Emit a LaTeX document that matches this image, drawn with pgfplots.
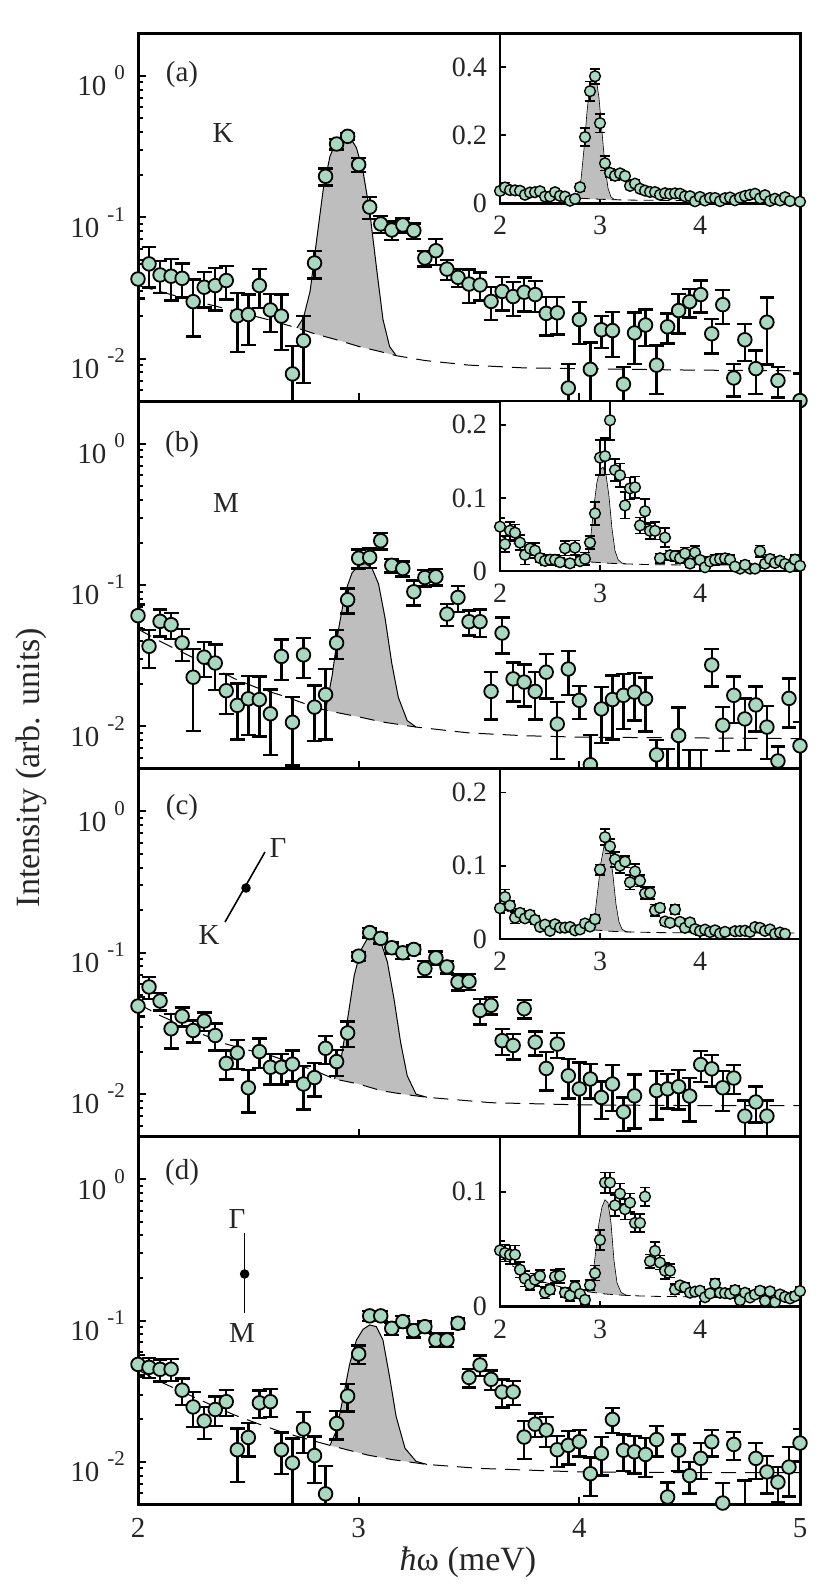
\documentclass[border=0pt]{standalone}
\usepackage{fontspec}
\setmainfont{Liberation Serif}
\usepackage{pgfplots}
\usepackage{pgfplotstable}
\pgfplotsset{compat=1.18}
\definecolor{mk}{HTML}{A8D8C0}
\definecolor{pk}{HTML}{BEBEBE}
\newcommand\dec[1]{10\hspace{0.28em}\raisebox{0.55em}{\fontsize{10.5pt}{12pt}\selectfont #1}}

\pgfplotstableread{
x y e
2.00 0.0366 0.010
2.05 0.0468 0.015
2.10 0.0391 0.010
2.15 0.0383 0.0125
2.20 0.0370 0.010
2.25 0.0253 0.011
2.30 0.0320 0.009
2.35 0.0329 0.011
2.40 0.0357 0.0095
2.45 0.0201 0.009
2.50 0.0205 0.008
2.55 0.0329 0.010
2.60 0.0221 0.0066
2.65 0.0200 0.0085
2.70 0.0078 0.0045
2.75 0.0134 0.0067
2.80 0.0475 0.0105
2.85 0.195 0.027
2.90 0.330 0.028
2.95 0.374 0.022
3.00 0.236 0.027
3.05 0.118 0.021
3.10 0.0897 0.012
3.15 0.0813 0.012
3.20 0.0882 0.010
3.25 0.0805 0.010
3.30 0.0515 0.0065
3.35 0.0580 0.012
3.40 0.0430 0.007
3.45 0.0376 0.0055
3.50 0.0337 0.009
3.55 0.0332 0.0075
3.60 0.0254 0.0066
3.65 0.0299 0.008
3.70 0.0275 0.0075
3.75 0.0295 0.008
3.80 0.0284 0.007
3.85 0.0209 0.0063
3.90 0.0211 0.0063
3.95 0.0062 0.003
4.00 0.0189 0.0062
4.05 0.0084 0.0046
4.10 0.0160 0.0041
4.15 0.0158 0.0055
4.20 0.0066 0.0021
4.25 0.0152 0.006
4.30 0.0173 0.005
4.35 0.0090 0.0034
4.40 0.0168 0.004
4.45 0.0219 0.0068
4.50 0.0253 0.0058
4.55 0.0284 0.0072
4.60 0.0150 0.0041
4.65 0.0241 0.0065
4.70 0.0073 0.0019
4.75 0.0136 0.004
4.80 0.0085 0.0029
4.85 0.0181 0.009
4.90 0.0070 0.0017
5.00 0.00505 0.0028
}\tA

\pgfplotstableread{
x y e
2.00 0.0608 0.012
2.05 0.0369 0.011
2.10 0.0554 0.012
2.15 0.0525 0.011
2.20 0.0390 0.010
2.25 0.0223 0.013
2.30 0.0309 0.0085
2.35 0.0281 0.010
2.40 0.0179 0.0056
2.45 0.0141 0.006
2.50 0.0157 0.007
2.55 0.0155 0.007
2.60 0.0123 0.006
2.65 0.0313 0.010
2.70 0.0107 0.0054
2.75 0.0321 0.010
2.80 0.0137 0.0058
2.85 0.0168 0.0087
2.90 0.0390 0.009
2.95 0.0788 0.016
3.00 0.155 0.024
3.05 0.157 0.025
3.10 0.206 0.027
3.15 0.138 0.015
3.20 0.131 0.016
3.25 0.0897 0.018
3.30 0.113 0.015
3.35 0.1145 0.015
3.40 0.0624 0.011
3.45 0.0818 0.017
3.50 0.0551 0.011
3.55 0.0551 0.012
3.60 0.0177 0.0065
3.65 0.0458 0.013
3.70 0.0217 0.0067
3.75 0.0206 0.0068
3.80 0.0177 0.0065
3.85 0.0242 0.0084
3.90 0.0104 0.0045
3.95 0.0255 0.0088
4.00 0.0153 0.004
4.05 0.00536 0.0033
4.10 0.0133 0.0057
4.15 0.0155 0.0074
4.20 0.0166 0.007
4.25 0.0175 0.0065
4.30 0.0157 0.0065
4.35 0.0063 0.0017
4.45 0.00863 0.005
4.60 0.0272 0.008
4.65 0.0102 0.0035
4.70 0.0166 0.006
4.75 0.0113 0.0045
4.80 0.0142 0.005
4.85 0.0099 0.004
4.90 0.0057 0.0015
4.95 0.0158 0.006
5.00 0.0073 0.0034
}\tB
\pgfplotstableread{
x y e
4.40 0.0035 0.0034
4.50 0.0035 0.0033
4.55 0.0035 0.0033
}\tBx

\pgfplotstableread{
x y e
2.00 0.0420 0.0066
2.05 0.0573 0.010
2.10 0.0456 0.0066
2.15 0.0290 0.008
2.20 0.0356 0.0055
2.25 0.0282 0.005
2.30 0.0329 0.005
2.35 0.0260 0.0057
2.40 0.0165 0.0038
2.45 0.0196 0.0045
2.50 0.0111 0.0037
2.55 0.0200 0.0047
2.60 0.0155 0.0038
2.65 0.0155 0.0038
2.70 0.0163 0.004
2.75 0.0118 0.004
2.80 0.0131 0.0035
2.85 0.0211 0.0047
2.90 0.0170 0.0035
2.95 0.0271 0.0055
3.00 0.0947 0.007
3.05 0.139 0.011
3.10 0.1265 0.010
3.15 0.1086 0.010
3.20 0.1000 0.010
3.25 0.1056 0.008
3.30 0.0774 0.010
3.35 0.0921 0.010
3.40 0.0795 0.008
3.45 0.0622 0.008
3.50 0.0628 0.008
3.55 0.0391 0.008
3.60 0.0425 0.006
3.65 0.0239 0.005
3.70 0.0221 0.0045
3.75 0.0402 0.006
3.80 0.0233 0.0045
3.85 0.0152 0.0046
3.90 0.0226 0.0045
3.95 0.0135 0.0042
4.00 0.0109 0.0059
4.05 0.0128 0.0035
4.10 0.00947 0.0028
4.15 0.0118 0.0042
4.20 0.00749 0.002
4.25 0.00973 0.004
4.35 0.0106 0.004
4.40 0.0109 0.003
4.45 0.0113 0.0035
4.50 0.0097 0.0033
4.55 0.0162 0.004
4.60 0.0151 0.0038
4.65 0.0111 0.0035
4.70 0.0130 0.003
4.75 0.0070 0.002
4.80 0.0088 0.0025
4.85 0.0070 0.002
}\tC

\pgfplotstableread{
x y e
2.00 0.0490 0.008
2.05 0.0467 0.0075
2.10 0.0452 0.008
2.15 0.0453 0.008
2.20 0.0322 0.0068
2.25 0.0245 0.0068
2.30 0.0195 0.005
2.35 0.0235 0.0055
2.40 0.0267 0.0055
2.45 0.0122 0.005
2.50 0.0149 0.004
2.55 0.0262 0.0058
2.60 0.0267 0.006
2.65 0.0122 0.004
2.70 0.00984 0.0048
2.75 0.0171 0.0055
2.80 0.0111 0.004
2.85 0.00595 0.0034
2.90 0.0187 0.0043
2.95 0.0292 0.0065
3.00 0.0581 0.0087
3.05 0.108 0.009
3.10 0.108 0.009
3.15 0.0882 0.009
3.20 0.0984 0.009
3.25 0.0849 0.009
3.30 0.0906 0.008
3.35 0.0729 0.008
3.40 0.0729 0.008
3.45 0.0958 0.008
3.50 0.0396 0.006
3.55 0.0485 0.008
3.60 0.0384 0.006
3.65 0.0313 0.007
3.70 0.0313 0.006
3.75 0.0150 0.0045
3.80 0.0185 0.0035
3.85 0.0168 0.004
3.90 0.0122 0.003
3.95 0.0131 0.0035
4.00 0.0139 0.003
4.05 0.00826 0.0025
4.10 0.0115 0.0035
4.15 0.0200 0.004
4.20 0.0121 0.0035
4.25 0.0118 0.0035
4.30 0.0113 0.0035
4.35 0.0144 0.0035
4.40 0.00565 0.0015
4.45 0.0121 0.0035
4.50 0.0080 0.002
4.55 0.0106 0.003
4.60 0.0139 0.003
4.65 0.00512 0.002
4.70 0.0133 0.003
4.80 0.0106 0.003
4.85 0.0085 0.0025
4.90 0.0072 0.002
4.95 0.0092 0.0035
5.00 0.0136 0.0035
}\tD
\pgfplotstableread{
x y e
4.75 0.0040 0.0034
}\tDx

\pgfplotstableread{
x y
2.72 0.0165
2.75 0.0195
2.78 0.030
2.81 0.070
2.84 0.160
2.87 0.270
2.90 0.350
2.93 0.380
2.96 0.370
2.99 0.310
3.02 0.210
3.05 0.110
3.08 0.045
3.11 0.019
3.14 0.0122
3.17 0.0105
}\pkA
\pgfplotstableread{
x y
2.72 0.0165
2.75 0.0195
2.78 0.030
2.81 0.070
2.84 0.160
2.87 0.270
2.90 0.350
2.93 0.380
2.96 0.370
2.99 0.310
3.02 0.210
3.05 0.110
3.08 0.045
3.11 0.019
3.14 0.0122
3.17 0.0105
3.10 0.0112
3.00 0.0122
2.90 0.0136
2.80 0.0150
2.72 0.0165
}\fA
\pgfplotstableread{
x y
2.00 0.0330
2.20 0.0270
2.40 0.0225
2.50 0.0205
2.60 0.0187
2.72 0.0165
2.80 0.0150
2.90 0.0136
3.00 0.0122
3.10 0.0112
3.17 0.0105
3.30 0.0097
3.50 0.0090
3.75 0.0086
4.00 0.0085
4.50 0.0083
5.00 0.0082
}\bgA

\pgfplotstableread{
x y
2.85 0.0130
2.88 0.0230
2.91 0.0500
2.94 0.0900
2.97 0.1220
3.00 0.1380
3.03 0.1420
3.06 0.1320
3.09 0.1020
3.12 0.0580
3.15 0.0280
3.18 0.0160
3.22 0.0110
3.26 0.0099
}\pkB
\pgfplotstableread{
x y
2.85 0.0130
2.88 0.0230
2.91 0.0500
2.94 0.0900
2.97 0.1220
3.00 0.1380
3.03 0.1420
3.06 0.1320
3.09 0.1020
3.12 0.0580
3.15 0.0280
3.18 0.0160
3.22 0.0110
3.26 0.0099
3.10 0.0108
3.00 0.0117
2.85 0.0130
}\fB
\pgfplotstableread{
x y
2.00 0.0489
2.10 0.0400
2.20 0.0335
2.32 0.0270
2.44 0.0217
2.55 0.0185
2.65 0.0166
2.75 0.0146
2.85 0.0130
3.00 0.0117
3.10 0.0108
3.26 0.0099
3.50 0.0090
3.75 0.0086
4.00 0.0084
4.50 0.0083
5.00 0.0082
}\bgB

\pgfplotstableread{
x y
2.89 0.0128
2.92 0.0177
2.95 0.0341
2.98 0.0693
3.01 0.1045
3.04 0.1265
3.07 0.1300
3.10 0.1197
3.13 0.0863
3.16 0.0473
3.19 0.0233
3.22 0.0135
3.26 0.0100
3.31 0.0095
}\pkC
\pgfplotstableread{
x y
2.89 0.0128
2.92 0.0177
2.95 0.0341
2.98 0.0693
3.01 0.1045
3.04 0.1265
3.07 0.1300
3.10 0.1197
3.13 0.0863
3.16 0.0473
3.19 0.0233
3.22 0.0135
3.26 0.0100
3.31 0.0095
3.20 0.0100
3.10 0.0106
3.00 0.0118
2.89 0.0128
}\fC
\pgfplotstableread{
x y
2.00 0.0436
2.10 0.0360
2.20 0.0306
2.30 0.0262
2.40 0.0226
2.50 0.0205
2.60 0.0188
2.70 0.0166
2.80 0.0147
2.89 0.0128
3.00 0.0118
3.10 0.0106
3.20 0.0100
3.31 0.0095
3.60 0.0087
4.00 0.0084
4.50 0.0083
5.00 0.0083
}\bgC

\pgfplotstableread{
x y
2.87 0.0131
2.90 0.0168
2.93 0.0289
2.96 0.0498
2.99 0.0729
3.02 0.0868
3.05 0.0931
3.08 0.0906
3.11 0.0729
3.14 0.0401
3.17 0.0209
3.21 0.0125
3.26 0.0101
3.31 0.0096
}\pkD
\pgfplotstableread{
x y
2.87 0.0131
2.90 0.0168
2.93 0.0289
2.96 0.0498
2.99 0.0729
3.02 0.0868
3.05 0.0931
3.08 0.0906
3.11 0.0729
3.14 0.0401
3.17 0.0209
3.21 0.0125
3.26 0.0101
3.31 0.0096
3.15 0.0104
3.04 0.0112
2.87 0.0131
}\fD
\pgfplotstableread{
x y
2.00 0.0447
2.10 0.0370
2.20 0.0314
2.32 0.0258
2.44 0.0214
2.55 0.0185
2.65 0.0163
2.76 0.0146
2.87 0.0131
3.04 0.0112
3.15 0.0104
3.31 0.0096
3.55 0.0090
4.00 0.0085
4.50 0.0084
5.00 0.0084
}\bgD

\pgfplotsset{
  myDat/.style={only marks, mark=*, mark size=3.4pt,
    mark options={fill=mk, draw=black, line width=0.9pt, solid},
    error bars/.cd, y dir=both, y explicit,
    error bar style={line width=1.2pt, black},
    error mark options={rotate=90, line width=1.2pt, black, mark size=3.7pt}},
  myBarsOnly/.style={only marks, mark=none, black,
    error bars/.cd, y dir=both, y explicit,
    error bar style={line width=1.2pt, black},
    error mark options={rotate=90, line width=1.2pt, black, mark size=3.7pt}},
  myIDat/.style={only marks, mark=*, mark size=2.7pt,
    mark options={fill=mk, draw=black, line width=0.7pt, solid},
    error bars/.cd, y dir=both, y explicit,
    error bar style={line width=0.8pt, black},
    error mark options={rotate=90, line width=0.8pt, black, mark size=2.7pt}},
  myBg/.style={black, line width=0.5pt, dash pattern=on 7.5pt off 4.5pt},
  myIBg/.style={black, line width=0.4pt, dash pattern=on 5pt off 3pt},
  myPk/.style={black, line width=0.5pt},
  myPkF/.style={fill=pk, draw=none},
}

\begin{document}
\begin{tikzpicture}
\useasboundingbox (0,0) rectangle (415pt,793.5pt);

% ===== (a) =====
\begin{axis}[at={(69pt,592.9pt)}, anchor=south west,
    width=331pt, height=183.9pt, scale only axis,
    ymode=log, xmin=2, xmax=5, ymin=0.005, ymax=2,
    axis line style={line width=1.5pt, black},
    tick align=inside, xtick pos=bottom, ytick pos=left,
    xtick={2,3,4,5}, xticklabels={},
    ytick={0.01,0.1,1}, yticklabels={\dec{-2},\dec{-1},\dec{0}},
    minor ytick={0.006,0.007,0.008,0.009,0.02,0.03,0.04,0.05,0.06,0.07,0.08,0.09,0.2,0.3,0.4,0.5,0.6,0.7,0.8,0.9},
    major tick length=4pt, minor tick length=2.5pt,
    tick style={line width=1pt, black},
    ticklabel style={font=\fontsize{14.5pt}{16pt}\selectfont, text=black!85},
    yticklabel style={yshift=-2.5pt, xshift=-3pt}]
\addplot[myPkF] table[x=x,y=y]{\fA};
\addplot[myBg] table[x=x,y=y]{\bgA};
\addplot[myPk] table[x=x,y=y]{\pkA};
\addplot[myDat] table[x=x,y=y,y error=e]{\tA};
\end{axis}
\begin{axis}[at={(250pt,776.8pt)}, anchor=north west,
    width=150pt, height=85pt, scale only axis,
    xmin=2, xmax=5, ymin=0, ymax=0.5,
    axis line style={line width=1.2pt, black},
    axis background/.style={fill=white},
    tick align=inside, xtick pos=bottom, ytick pos=left,
    xtick={2,3,4}, ytick={0,0.2,0.4}, scaled y ticks=false,
    major tick length=3pt, tick style={line width=0.9pt, black},
    ticklabel style={font=\fontsize{14pt}{16pt}\selectfont, text=black!85},
    /pgf/number format/assume math mode=true,
    yticklabel style={xshift=-3pt}, xticklabel style={yshift=-3pt}]
\addplot[myPkF] table[x=x,y=y]{\fA};
\addplot[myIBg] table[x=x,y=y]{\bgA};
\addplot[myPk, line width=0.3pt] table[x=x,y=y]{\pkA};
\addplot[myIDat] table[x=x,y=y,y error=e]{\tA};
\end{axis}

% ===== (b) =====
\begin{axis}[at={(69pt,409pt)}, anchor=south west,
    width=331pt, height=183.9pt, scale only axis,
    ymode=log, xmin=2, xmax=5, ymin=0.005, ymax=2,
    axis line style={line width=1.5pt, black},
    tick align=inside, xtick pos=bottom, ytick pos=left,
    xtick={2,3,4,5}, xticklabels={},
    ytick={0.01,0.1,1}, yticklabels={\dec{-2},\dec{-1},\dec{0}},
    minor ytick={0.006,0.007,0.008,0.009,0.02,0.03,0.04,0.05,0.06,0.07,0.08,0.09,0.2,0.3,0.4,0.5,0.6,0.7,0.8,0.9},
    major tick length=4pt, minor tick length=2.5pt,
    tick style={line width=1pt, black},
    ticklabel style={font=\fontsize{14.5pt}{16pt}\selectfont, text=black!85},
    yticklabel style={yshift=-2.5pt, xshift=-3pt}]
\addplot[myPkF] table[x=x,y=y]{\fB};
\addplot[myBg] table[x=x,y=y]{\bgB};
\addplot[myPk] table[x=x,y=y]{\pkB};
\addplot[myBarsOnly] table[x=x,y=y,y error=e]{\tBx};
\addplot[myDat] table[x=x,y=y,y error=e]{\tB};
\end{axis}
\begin{axis}[at={(250pt,592.9pt)}, anchor=north west,
    width=150pt, height=85pt, scale only axis,
    xmin=2, xmax=5, ymin=0, ymax=0.232,
    axis line style={line width=1.2pt, black},
    axis background/.style={fill=white},
    tick align=inside, xtick pos=bottom, ytick pos=left,
    xtick={2,3,4}, ytick={0,0.1,0.2}, scaled y ticks=false,
    major tick length=3pt, tick style={line width=0.9pt, black},
    ticklabel style={font=\fontsize{14pt}{16pt}\selectfont, text=black!85},
    /pgf/number format/assume math mode=true,
    yticklabel style={xshift=-3pt}, xticklabel style={yshift=-3pt}]
\addplot[myPkF] table[x=x,y=y]{\fB};
\addplot[myIBg] table[x=x,y=y]{\bgB};
\addplot[myPk, line width=0.3pt] table[x=x,y=y]{\pkB};
\addplot[myIDat] table[x=x,y=y,y error=e]{\tBx};
\addplot[myIDat] table[x=x,y=y,y error=e]{\tB};
\end{axis}

% ===== (c) =====
\begin{axis}[at={(69pt,225.15pt)}, anchor=south west,
    width=331pt, height=183.9pt, scale only axis,
    ymode=log, xmin=2, xmax=5, ymin=0.005, ymax=2,
    axis line style={line width=1.5pt, black},
    tick align=inside, xtick pos=bottom, ytick pos=left,
    xtick={2,3,4,5}, xticklabels={},
    ytick={0.01,0.1,1}, yticklabels={\dec{-2},\dec{-1},\dec{0}},
    minor ytick={0.006,0.007,0.008,0.009,0.02,0.03,0.04,0.05,0.06,0.07,0.08,0.09,0.2,0.3,0.4,0.5,0.6,0.7,0.8,0.9},
    major tick length=4pt, minor tick length=2.5pt,
    tick style={line width=1pt, black},
    ticklabel style={font=\fontsize{14.5pt}{16pt}\selectfont, text=black!85},
    yticklabel style={yshift=-2.5pt, xshift=-3pt}]
\addplot[myPkF] table[x=x,y=y]{\fC};
\addplot[myBg] table[x=x,y=y]{\bgC};
\addplot[myPk] table[x=x,y=y]{\pkC};
\addplot[myDat] table[x=x,y=y,y error=e]{\tC};
\end{axis}
\begin{axis}[at={(250pt,409pt)}, anchor=north west,
    width=150pt, height=85pt, scale only axis,
    xmin=2, xmax=5, ymin=0, ymax=0.232,
    axis line style={line width=1.2pt, black},
    axis background/.style={fill=white},
    tick align=inside, xtick pos=bottom, ytick pos=left,
    xtick={2,3,4}, ytick={0,0.1,0.2}, scaled y ticks=false,
    major tick length=3pt, tick style={line width=0.9pt, black},
    ticklabel style={font=\fontsize{14pt}{16pt}\selectfont, text=black!85},
    /pgf/number format/assume math mode=true,
    yticklabel style={xshift=-3pt}, xticklabel style={yshift=-3pt}]
\addplot[myPkF] table[x=x,y=y]{\fC};
\addplot[myIBg] table[x=x,y=y]{\bgC};
\addplot[myPk, line width=0.3pt] table[x=x,y=y]{\pkC};
\addplot[myIDat] table[x=x,y=y,y error=e]{\tC};
\end{axis}

% ===== (d) =====
\begin{axis}[at={(69pt,41.25pt)}, anchor=south west,
    width=331pt, height=183.9pt, scale only axis,
    ymode=log, xmin=2, xmax=5, ymin=0.005, ymax=2,
    axis line style={line width=1.5pt, black},
    tick align=inside, xtick pos=bottom, ytick pos=left,
    xtick={2,3,4,5},
    ytick={0.01,0.1,1}, yticklabels={\dec{-2},\dec{-1},\dec{0}},
    minor ytick={0.006,0.007,0.008,0.009,0.02,0.03,0.04,0.05,0.06,0.07,0.08,0.09,0.2,0.3,0.4,0.5,0.6,0.7,0.8,0.9},
    major tick length=4pt, minor tick length=2.5pt,
    tick style={line width=1pt, black},
    ticklabel style={font=\fontsize{14.5pt}{16pt}\selectfont, text=black!85},
    /pgf/number format/assume math mode=true,
    yticklabel style={yshift=-2.5pt, xshift=-3pt}, xticklabel style={yshift=-3.5pt}]
\addplot[myPkF] table[x=x,y=y]{\fD};
\addplot[myBg] table[x=x,y=y]{\bgD};
\addplot[myPk] table[x=x,y=y]{\pkD};
\addplot[myBarsOnly] table[x=x,y=y,y error=e]{\tDx};
\addplot[myDat] table[x=x,y=y,y error=e]{\tD};
\end{axis}
\begin{axis}[at={(250pt,225.15pt)}, anchor=north west,
    width=150pt, height=85pt, scale only axis,
    xmin=2, xmax=5, ymin=0, ymax=0.148,
    axis line style={line width=1.2pt, black},
    axis background/.style={fill=white},
    tick align=inside, xtick pos=bottom, ytick pos=left,
    xtick={2,3,4}, ytick={0,0.1}, scaled y ticks=false,
    major tick length=3pt, tick style={line width=0.9pt, black},
    ticklabel style={font=\fontsize{14pt}{16pt}\selectfont, text=black!85},
    /pgf/number format/assume math mode=true,
    yticklabel style={xshift=-3pt}, xticklabel style={yshift=-3pt}]
\addplot[myPkF] table[x=x,y=y]{\fD};
\addplot[myIBg] table[x=x,y=y]{\bgD};
\addplot[myPk, line width=0.3pt] table[x=x,y=y]{\pkD};
\addplot[myIDat] table[x=x,y=y,y error=e]{\tDx};
\addplot[myIDat] table[x=x,y=y,y error=e]{\tD};
\end{axis}

% ===== annotations =====
\begin{scope}[every node/.style={font=\fontsize{14.5pt}{17pt}\selectfont, text=black!85}]
\node at (91pt,756pt) {(a)};
\node at (111.5pt,727pt) {K};
\node at (91pt,571pt) {(b)};
\node at (113pt,542pt) {M};
\node at (91pt,389.5pt) {(c)};
\node at (139pt,369.5pt) {Γ};
\node at (104.5pt,326pt) {K};
\node at (91pt,207pt) {(d)};
\node at (118.5pt,184pt) {Γ};
\node at (121pt,127pt) {M};
\end{scope}
\draw[line width=0.8pt] (112.5pt,332.5pt) -- (132.5pt,367.5pt);
\fill (123pt,349.5pt) circle (2.4pt);
\draw[line width=0.8pt] (122.3pt,177pt) -- (122.3pt,137pt);
\fill (122.3pt,156.5pt) circle (2.4pt);

\node[rotate=90, font=\fontsize{17pt}{20pt}\selectfont, text=black!85] at (15.8pt,409.75pt) {Intensity (arb. units)};
\node[font=\fontsize{17pt}{20pt}\selectfont, text=black!85] at (234pt,12.5pt) {\textit{ħ}ω (meV)};
\end{tikzpicture}
\end{document}
